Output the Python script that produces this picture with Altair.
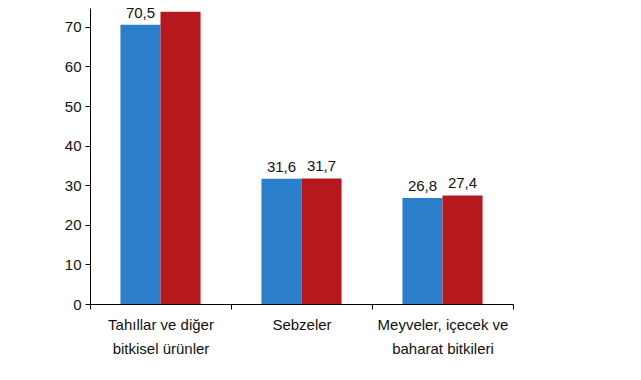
import json
import altair as alt
import pandas as pd

label_lines = [["Tahıllar ve diğer", "bitkisel ürünler"], ["Sebzeler"], ["Meyveler, içecek ve", "baharat bitkileri"]]
categories = [" ".join(l) for l in label_lines]
years = ["2022", "2023"]
values_2022 = [70.5, 31.6, 26.8]
values_2023 = [73.8, 31.7, 27.4]
colors = ["#2b7fca", "#b5191d"]
y_ticks = [0, 10, 20, 30, 40, 50, 60, 70]

rows = []
for c, v1, v2 in zip(categories, values_2022, values_2023):
    for yr, v in zip(years, [v1, v2]):
        rows.append({"category": c, "year": yr, "value": v, "label": str(v).replace(".", ",")})
df = pd.DataFrame(rows)

label_map = json.dumps(dict(zip(categories, label_lines)), ensure_ascii=False)
FONT = "Liberation Sans"

x = alt.X("category:N", sort=categories, title=None,
          scale=alt.Scale(paddingInner=0, paddingOuter=0),
          axis=alt.Axis(labelAngle=0, labelExpr=f"{label_map}[datum.label]", tickBand="extent",
                        tickSize=5, tickColor="#000", domainColor="#000", labelFont=FONT,
                        labelFontSize=15, labelColor="#111", labelPadding=8, labelLineHeight=24,
                        labelBaseline="top"))
xo = alt.XOffset("year:N", sort=years, scale=alt.Scale(paddingInner=0, paddingOuter=0.76))
y = alt.Y("value:Q", title=None,
          scale=alt.Scale(domain=[0, 74.75], nice=False),
          axis=alt.Axis(values=y_ticks, grid=False, tickSize=5, tickColor="#000", domainColor="#000",
                        labelFont=FONT, labelFontSize=15, labelColor="#111", labelPadding=4))

bars = alt.Chart(df).mark_bar().encode(
    x=x, xOffset=xo, y=y,
    color=alt.Color("year:N", sort=years, scale=alt.Scale(domain=years, range=colors), legend=None),
)
text = alt.Chart(df).mark_text(baseline="bottom", dy=-4, font=FONT, fontSize=15, color="#111").encode(
    x=alt.X("category:N", sort=categories), xOffset=alt.XOffset("year:N", sort=years), y="value:Q", text="label:N"
)

chart = (bars + text).properties(
    width=423, height=296,
    autosize=alt.AutoSizeParams(type="none"),
    padding={"left": 82, "top": 0, "right": 100, "bottom": 70},
).configure_view(stroke=None)

chart.save("out.html", embed_options={"renderer": "svg", "actions": False})
